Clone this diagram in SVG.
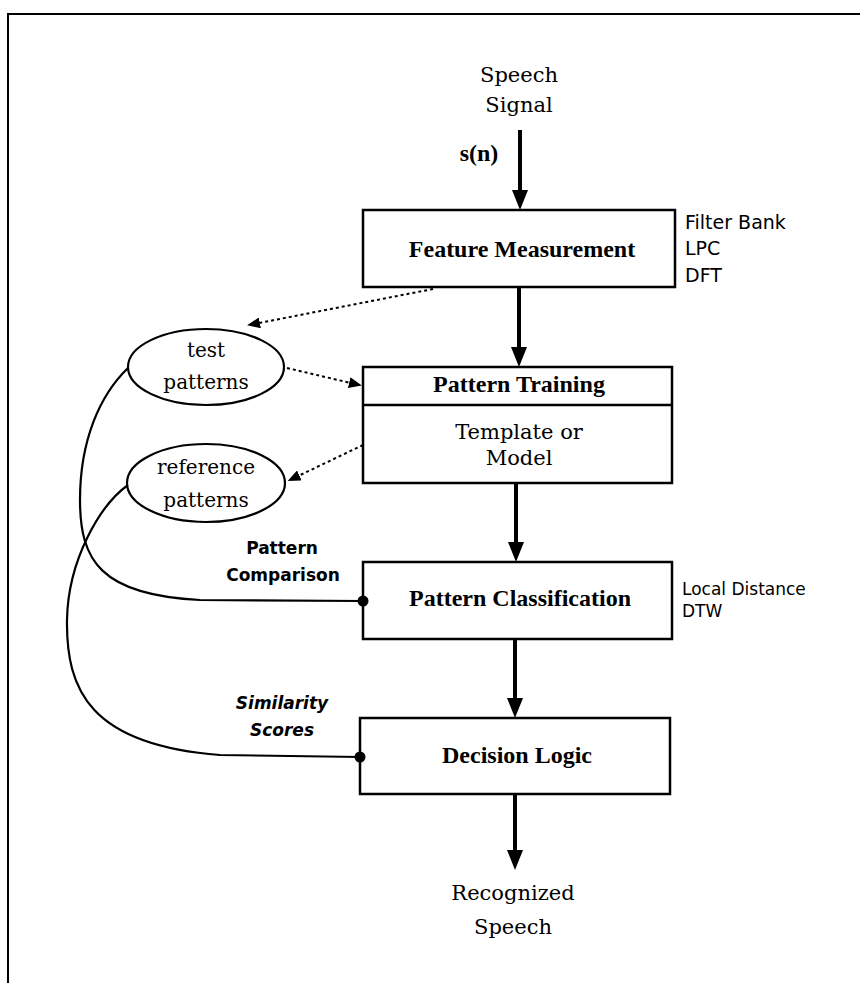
<svg xmlns="http://www.w3.org/2000/svg" width="860" height="983" viewBox="0 0 860 983">
<defs>
<style>
.box{fill:#fff;stroke:#000;stroke-width:2.5}
.bold{font-family:"Liberation Serif","Times New Roman",serif;font-weight:bold;font-size:24px;fill:#000;text-anchor:middle}
.reg{font-family:"DejaVu Serif",serif;font-size:21px;fill:#000;text-anchor:middle}
.ell{font-family:"DejaVu Serif",serif;font-size:20px;fill:#000;text-anchor:middle}
.note{font-family:"DejaVu Sans",sans-serif;font-size:19px;fill:#000}
.note2{font-family:"DejaVu Sans",sans-serif;font-size:17px;fill:#000}
.lab{font-family:"DejaVu Sans",sans-serif;font-weight:bold;font-size:17px;fill:#000;text-anchor:middle}
.main{stroke:#000;stroke-width:4;fill:none}
.dot{stroke:#000;stroke-width:2;stroke-dasharray:3 3;fill:none}
.curve{stroke:#000;stroke-width:2.2;fill:none}
</style>
<marker id="big" markerUnits="userSpaceOnUse" viewBox="0 0 20 16" markerWidth="20" markerHeight="16" refX="10" refY="8" orient="auto">
<path d="M0,0 L20,8 L0,16 z" fill="#000"/>
</marker>
<marker id="small" markerUnits="userSpaceOnUse" viewBox="0 0 13 11" markerWidth="13" markerHeight="11" refX="6" refY="5.5" orient="auto">
<path d="M0,0 L13,5.5 L0,11 z" fill="#000"/>
</marker>
</defs>
<rect width="860" height="983" fill="#fff"/>
<g id="frame">
<line x1="7" y1="14" x2="860" y2="14" stroke="#000" stroke-width="2"/>
<line x1="8" y1="14" x2="8" y2="983" stroke="#000" stroke-width="2"/>
</g>
<g id="input">
<text class="reg" x="519" y="82">Speech</text>
<text class="reg" x="519" y="112">Signal</text>
<text class="bold" x="479" y="161">s(n)</text>
</g>
<g id="feature">
<rect class="box" x="363" y="210" width="312" height="77"/>
<text class="bold" x="522" y="257">Feature Measurement</text>
<text class="note" x="685" y="229">Filter Bank</text>
<text class="note" x="685" y="255">LPC</text>
<text class="note" x="685" y="282">DFT</text>
</g>
<g id="training">
<rect class="box" x="363" y="367" width="309" height="116"/>
<line x1="363" y1="405" x2="672" y2="405" stroke="#000" stroke-width="2.5"/>
<text class="bold" x="519" y="392">Pattern Training</text>
<text class="reg" x="519" y="439">Template or</text>
<text class="reg" x="519" y="465">Model</text>
</g>
<g id="classification">
<rect class="box" x="363" y="562" width="309" height="77"/>
<text class="bold" x="520" y="606">Pattern Classification</text>
<text class="note2" x="682" y="595">Local Distance</text>
<text class="note2" x="682" y="617">DTW</text>
</g>
<g id="decision">
<rect class="box" x="360" y="718" width="310" height="76"/>
<text class="bold" x="517" y="763">Decision Logic</text>
</g>
<g id="output">
<text class="reg" x="513" y="900">Recognized</text>
<text class="reg" x="513" y="934">Speech</text>
</g>
<g id="test">
<ellipse cx="206" cy="367" rx="78" ry="38" fill="#fff" stroke="#000" stroke-width="2.2"/>
<text class="ell" x="206" y="357">test</text>
<text class="ell" x="206" y="389">patterns</text>
</g>
<g id="reference">
<ellipse cx="206" cy="483" rx="79" ry="39" fill="#fff" stroke="#000" stroke-width="2.2"/>
<text class="ell" x="206" y="474">reference</text>
<text class="ell" x="206" y="507">patterns</text>
</g>
<g id="labels">
<text class="lab" x="282" y="554">Pattern</text>
<text class="lab" x="283" y="581">Comparison</text>
<text class="lab" x="282" y="709" font-style="italic">Similarity</text>
<text class="lab" x="282" y="736" font-style="italic">Scores</text>
</g>
<g id="connectors">
<line class="main" x1="520" y1="130" x2="520" y2="200" marker-end="url(#big)"/>
<line class="main" x1="519" y1="287" x2="519" y2="357" marker-end="url(#big)"/>
<line class="main" x1="516" y1="483" x2="516" y2="552" marker-end="url(#big)"/>
<line class="main" x1="515" y1="639" x2="515" y2="708" marker-end="url(#big)"/>
<line class="main" x1="515" y1="794" x2="515" y2="860" marker-end="url(#big)"/>
<path class="dot" d="M433,289 L254,324" marker-end="url(#small)"/>
<path class="dot" d="M287,368 L355,384" marker-end="url(#small)"/>
<path class="dot" d="M363,445 L294,478" marker-end="url(#small)"/>
<path class="curve" d="M128,368 C100,395 80,440 80,500 C80,560 100,595 200,600 L363,601"/>
<path class="curve" d="M128,485 C100,505 68,560 67,620 C66,690 90,745 220,755 L360,757"/>
<circle cx="363" cy="601" r="5.5" fill="#000"/>
<circle cx="360" cy="757" r="5.5" fill="#000"/>
</g>
</svg>
